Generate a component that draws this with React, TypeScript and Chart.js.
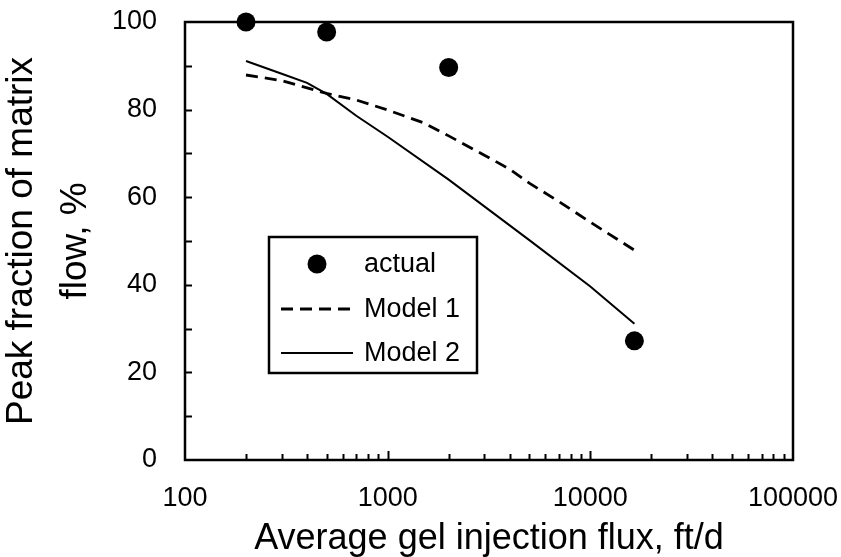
import React, { useEffect, useRef } from 'react';
import { Chart, registerables } from 'chart.js';

Chart.register(...registerables);

// ---- data ----
const actualX = [200, 500, 2000, 16500];
const actualY = [100, 97.7, 89.6, 27.2];

const model1X = [200, 300, 500, 700, 1000, 1500, 2000, 3000, 4000, 5000, 7000, 10000, 16500];
const model1Y = [87.9, 86.6, 83.7, 82.2, 79.9, 77.0, 74.0, 69.6, 66.4, 63.2, 59.0, 54.3, 47.9];

const model2X = [200, 300, 400, 500, 700, 1000, 2000, 5000, 10000, 16500];
const model2Y = [91.1, 88.2, 86.1, 83.6, 78.6, 73.8, 64, 50.2, 39.6, 31.1];

const seriesLabels = ['actual', 'Model 1', 'Model 2'];
const xTickValues = [100, 1000, 10000, 100000];
const xTickLabels = ['100', '1000', '10000', '100000'];
const yTickValues = [0, 20, 40, 60, 80, 100];
const xTitle = 'Average gel injection flux, ft/d';
const yTitle = ['Peak fraction of matrix', 'flow, %'];

const FONT = '"Liberation Sans", Arial, Helvetica, sans-serif';

const toPts = (xs: number[], ys: number[]) => xs.map((x, i) => ({ x, y: ys[i] }));

const framePlugin = {
  id: 'frame',
  beforeDatasetsDraw(chart: any) {
    const { ctx, chartArea: a, scales } = chart;
    ctx.save();
    ctx.strokeStyle = '#000';
    ctx.lineWidth = 2.5;
    ctx.strokeRect(a.left, a.top, a.right - a.left, a.bottom - a.top);
    ctx.lineWidth = 2;
    const ys = scales.y;
    for (let v = 10; v < 100; v += 10) {
      const py = Math.round(ys.getPixelForValue(v)) + 0.5;
      ctx.beginPath();
      ctx.moveTo(a.left, py);
      ctx.lineTo(a.left + 7, py);
      ctx.stroke();
    }
    const xs = scales.x;
    for (let e = 2; e <= 4; e++) {
      for (let k = 1; k <= 9; k++) {
        if (e === 2 && k === 1) continue;
        const v = k * Math.pow(10, e);
        const px = Math.round(xs.getPixelForValue(v)) + 0.5;
        const len = k === 1 ? 9 : 6;
        ctx.beginPath();
        ctx.moveTo(px, a.bottom);
        ctx.lineTo(px, a.bottom - len);
        ctx.stroke();
      }
    }
    ctx.restore();
  },
  afterDraw(chart: any) {
    const { ctx, chartArea: a } = chart;
    const bx = a.left + 84;
    const by = a.top + 215;
    const bw = 208;
    const bh = 136;
    ctx.save();
    ctx.fillStyle = '#fff';
    ctx.fillRect(bx, by, bw, bh);
    ctx.strokeStyle = '#000';
    ctx.lineWidth = 2.5;
    ctx.strokeRect(bx, by, bw, bh);
    const rows = [by + 27, by + 72, by + 116];
    const ds = chart.data.datasets;
    ctx.font = `27px ${FONT}`;
    ctx.textBaseline = 'middle';
    ctx.textAlign = 'left';
    ctx.fillStyle = '#000';
    rows.forEach((ry, i) => {
      const d = ds[i];
      if (i === 0) {
        ctx.beginPath();
        ctx.arc(bx + 48, ry, 9.5, 0, Math.PI * 2);
        ctx.fill();
      } else {
        ctx.beginPath();
        ctx.lineWidth = d.borderWidth;
        ctx.setLineDash(d.borderDash || []);
        ctx.moveTo(bx + 12, ry);
        ctx.lineTo(bx + 84, ry);
        ctx.stroke();
        ctx.setLineDash([]);
      }
      ctx.fillText(d.label, bx + 95, ry + 1);
    });
    ctx.restore();
  },
};

export default function App() {
  const ref = useRef<HTMLCanvasElement>(null);
  useEffect(() => {
    document.body.style.margin = '0';
    const chart = new Chart(ref.current as HTMLCanvasElement, {
      type: 'line',
      data: {
        datasets: [
          {
            label: seriesLabels[0],
            data: toPts(actualX, actualY),
            showLine: false,
            pointRadius: 9.5,
            pointBackgroundColor: '#000',
            pointBorderColor: '#000',
            pointBorderWidth: 0,
            borderColor: '#000',
            backgroundColor: '#000',
            clip: false,
          } as any,
          {
            label: seriesLabels[1],
            data: toPts(model1X, model1Y),
            borderColor: '#000',
            borderWidth: 2.8,
            borderDash: [12, 7],
            pointRadius: 0,
            tension: 0,
            fill: false,
            clip: false,
          } as any,
          {
            label: seriesLabels[2],
            data: toPts(model2X, model2Y),
            borderColor: '#000',
            borderWidth: 2,
            pointRadius: 0,
            tension: 0,
            fill: false,
            clip: false,
          } as any,
        ],
      },
      options: {
        responsive: false,
        animation: false,
        events: [],
        layout: { padding: { top: 22, right: 48, left: 0, bottom: 0 } },
        plugins: { legend: { display: false }, tooltip: { enabled: false } },
        scales: {
          x: {
            type: 'logarithmic',
            min: 100,
            max: 100000,
            grid: { display: false, drawTicks: false },
            border: { display: false },
            afterBuildTicks: (s: any) => {
              s.ticks = xTickValues.map((v) => ({ value: v }));
            },
            afterFit: (s: any) => {
              s.height = 97;
              s.paddingLeft = 0;
              s.paddingRight = 0;
            },
            ticks: {
              autoSkip: false,
              maxRotation: 0,
              padding: 22,
              color: '#000',
              font: { family: FONT, size: 27 },
              callback: (v: any) => {
                const i = xTickValues.indexOf(Number(v));
                return i >= 0 ? xTickLabels[i] : '';
              },
            },
            title: {
              display: true,
              text: xTitle,
              color: '#000',
              font: { family: FONT, size: 36, lineHeight: 1.0 },
              padding: 0,
            },
          } as any,
          y: {
            type: 'linear',
            min: 0,
            max: 100,
            grid: { display: false, drawTicks: false },
            border: { display: false },
            afterBuildTicks: (s: any) => {
              s.ticks = yTickValues.map((v) => ({ value: v }));
            },
            afterFit: (s: any) => {
              s.width = 185;
              s.paddingTop = 0;
              s.paddingBottom = 0;
            },
            ticks: {
              padding: 28,
              color: '#000',
              font: { family: FONT, size: 27 },
            },
            title: {
              display: true,
              text: yTitle,
              color: '#000',
              font: { family: FONT, size: 37, lineHeight: 1.45 },
              padding: { top: -5, bottom: 0 },
            },
          } as any,
        },
      },
      plugins: [framePlugin],
    });
    return () => chart.destroy();
  }, []);
  return (
    <div style={{ width: 841, height: 557, background: '#fff' }}>
      <canvas ref={ref} width={841} height={557} style={{ display: 'block' }} />
    </div>
  );
}
